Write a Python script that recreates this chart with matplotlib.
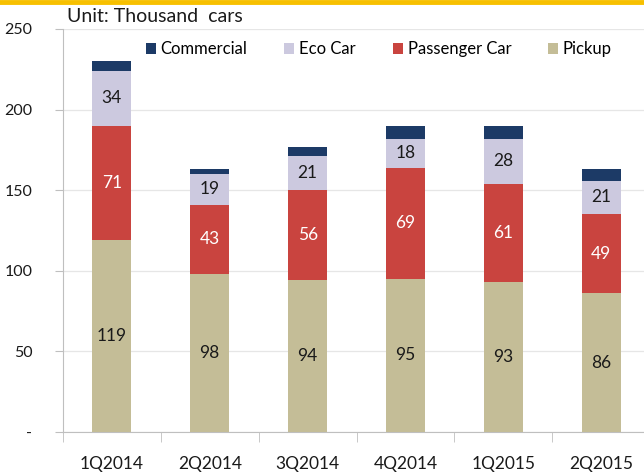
import numpy as np
import matplotlib.pyplot as plt

# ---- data (thousand cars) ----
quarters = ["1Q2014", "2Q2014", "3Q2014", "4Q2014", "1Q2015", "2Q2015"]
pickup = [119, 98, 94, 95, 93, 86]
passenger = [71, 43, 56, 69, 61, 49]
eco = [34, 19, 21, 18, 28, 21]
commercial = [6, 3, 6, 8, 8, 7]

series = [
    ("Pickup", pickup, "#C4BD97", "#1a1a1a", True),
    ("Passenger Car", passenger, "#C9443F", "white", True),
    ("Eco Car", eco, "#CCC9DF", "#1a1a1a", True),
    ("Commercial", commercial, "#1C3A66", "white", False),
]

plt.rcParams["font.family"] = ["Lato", "DejaVu Sans"]

fig = plt.figure(figsize=(6.44, 4.72), dpi=100)
ax = fig.add_axes([63 / 644, 40 / 472, 587 / 644, 403 / 472])

x = np.arange(len(quarters)) + 0.5
bottom = np.zeros(len(quarters))
handles = {}
for name, vals, col, tcol, show in series:
    vals = np.array(vals, dtype=float)
    bars = ax.bar(x, vals, width=0.4, bottom=bottom, color=col, label=name, zorder=3)
    handles[name] = bars
    if show:
        for xi, b, v in zip(x, bottom, vals):
            ax.text(xi, b + v / 2, str(int(v)), ha="center", va="center",
                    fontsize=12.5, color=tcol, zorder=4)
    bottom += vals

ax.set_xlim(0, 6)
ax.set_ylim(0, 250)
ax.set_yticks([0, 50, 100, 150, 200, 250])
ax.set_yticklabels(["-", "50", "100", "150", "200", "250"])
ax.set_xticks(x)
ax.set_xticklabels(quarters)
ax.set_xticks(np.arange(0, 7), minor=True)
ax.tick_params(axis="x", which="major", length=0, pad=17, labelsize=12.5, labelcolor="#1a1a1a")
ax.tick_params(axis="x", which="minor", length=7, color="#BFBFBF")
ax.tick_params(axis="y", length=6, color="#BFBFBF", pad=16, labelsize=11.5, labelcolor="#1a1a1a")

ax.grid(axis="y", color="#E6E6E6", linewidth=0.9, zorder=0)
for s in ["top", "right"]:
    ax.spines[s].set_visible(False)
ax.spines["left"].set_color("#BFBFBF")
ax.spines["bottom"].set_color("#BFBFBF")

order = ["Commercial", "Eco Car", "Passenger Car", "Pickup"]
ax.legend([handles[n] for n in order], order, loc="center", bbox_to_anchor=(0.538, 0.95),
          ncol=4, frameon=False, fontsize=12, handlelength=0.6, handleheight=0.6,
          handletextpad=0.3, columnspacing=2.2)

fig.text(67 / 644, 1 - 16 / 472, "Unit: Thousand  cars", fontsize=14,
         color="#1a1a1a", ha="left", va="center")

# orange line along the top
fig.add_artist(plt.Line2D([0, 1], [1 - 2 / 472, 1 - 2 / 472], color="#F7C000",
                          linewidth=3.5, transform=fig.transFigure))

fig.savefig("out.png", dpi=100)
